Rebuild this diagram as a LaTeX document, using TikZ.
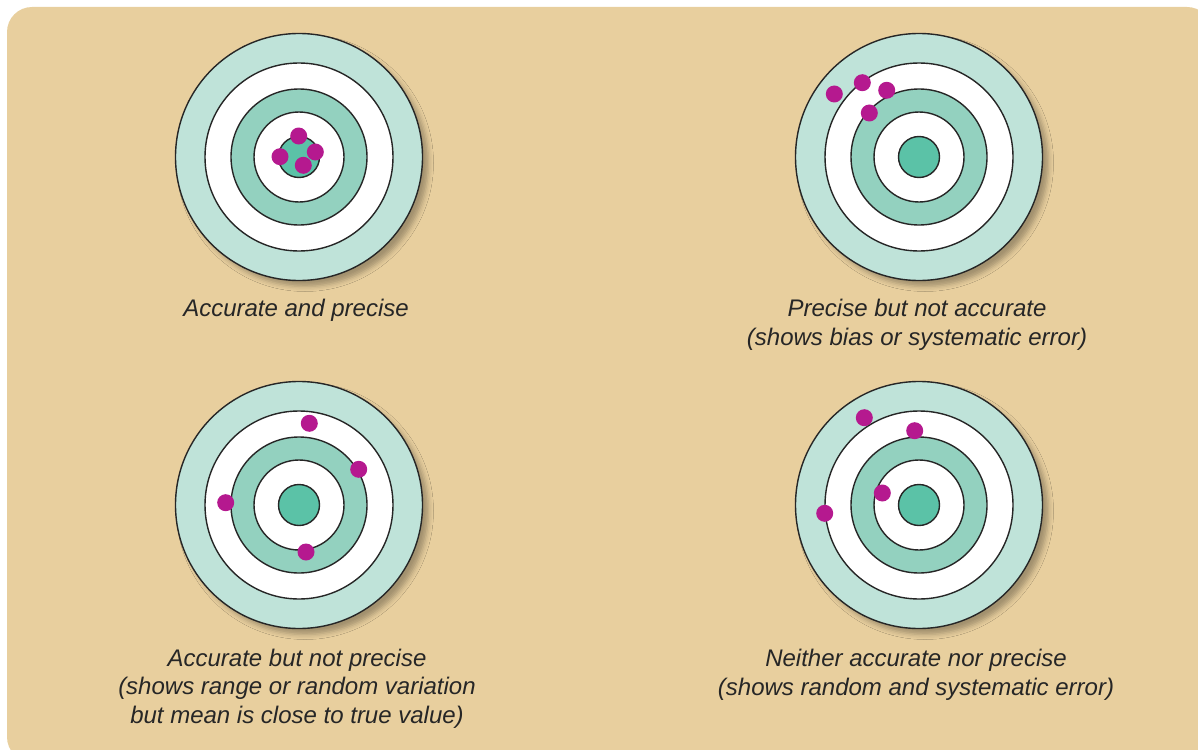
\documentclass[tikz,border=0pt]{standalone}
\usepackage{fontspec}
\setmainfont{Liberation Sans}
\usepackage{tikz}
\usepackage{xcolor}
\usetikzlibrary{shadows.blur}
\definecolor{sandbg}{HTML}{E8CF9E}
\definecolor{ringpale}{HTML}{BFE3D9}
\definecolor{ringmid}{HTML}{93D1BF}
\definecolor{bullcore}{HTML}{5BC2A7}
\definecolor{hitmark}{HTML}{B5198F}

% one target, centred on a named coordinate
\newcommand{\bullseye}[1]{%
  \draw[ring, fill=ringpale, blur shadow={shadow xshift=6pt, shadow yshift=-6pt, shadow blur radius=5pt, shadow opacity=30}] (#1) circle (123.5pt);
  \draw[ring, fill=white] (#1) circle (94pt);
  \draw[ring, fill=ringmid] (#1) circle (68pt);
  \draw[ring, fill=white] (#1) circle (45pt);
  \draw[ring, fill=bullcore] (#1) circle (20.5pt);
}

\begin{document}
\begin{tikzpicture}[x=1pt, y=-1pt,
    ring/.style={draw=black!85, line width=1.4pt},
    hit/.style={circle, fill=hitmark, minimum size=17pt, inner sep=0pt},
    lbl/.style={anchor=base, align=center, font=\fontsize{24}{28.5}\selectfont\itshape, text=black!85}]
    \useasboundingbox (0,0) rectangle (1198,749);
    \fill[sandbg, rounded corners=25pt] (7,7) rectangle (1212,762);

    \coordinate (tgtA) at (299,157);
    \coordinate (tgtB) at (919,157);
    \coordinate (tgtC) at (299,505);
    \coordinate (tgtD) at (919,505);
    \bullseye{tgtA}
    \bullseye{tgtB}
    \bullseye{tgtC}
    \bullseye{tgtD}

    % hits
    \foreach \px/\py [count=\i] in {298.7/136, 280/156.7, 315.3/152, 303.3/165.3}
        \node[hit] (hitA\i) at (\px,\py) {};
    \foreach \px/\py [count=\i] in {834.3/94, 862.3/82.7, 886.7/90.3, 869.3/113}
        \node[hit] (hitB\i) at (\px,\py) {};
    \foreach \px/\py [count=\i] in {309.3/423.3, 358.7/469.3, 225.7/502.7, 306/552}
        \node[hit] (hitC\i) at (\px,\py) {};
    \foreach \px/\py [count=\i] in {864.3/417.7, 914.7/430.7, 882.3/493, 824.7/513.3}
        \node[hit] (hitD\i) at (\px,\py) {};

    % captions (base = last line)
    \node[lbl] (lblA) at (296,316) {Accurate and precise};
    \node[lbl] (lblB) at (917,345) {Precise but not accurate\\(shows bias or systematic error)};
    \node[lbl] (lblC) at (297,723) {Accurate but not precise\\(shows range or random variation\\but mean is close to true value)};
    \node[lbl] (lblD) at (916,695) {Neither accurate nor precise\\(shows random and systematic error)};
\end{tikzpicture}
\end{document}
